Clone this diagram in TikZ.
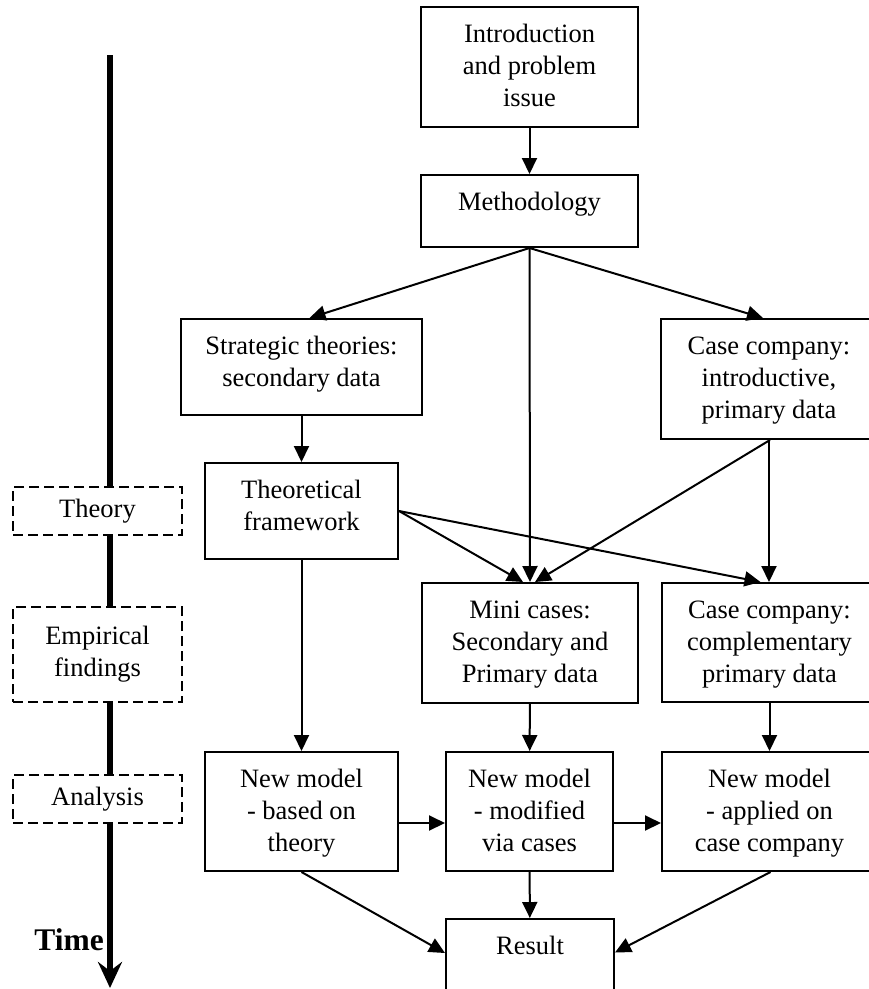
\documentclass[tikz,border=0pt]{standalone}
\usepackage{fontspec}
\setmainfont{Liberation Serif}
\usetikzlibrary{arrows.meta}
\begin{document}
\begin{tikzpicture}[x=1pt,y=-1pt,
  box/.style={draw, line width=2pt, rectangle, inner sep=0pt},
  phase/.style={draw, line width=1.4pt, dash pattern=on 10pt off 5pt, fill=white,
    rectangle, inner sep=0pt, minimum width=169pt, align=center,
    font=\fontsize{26.5}{32}\selectfont},
  txt/.style={anchor=north, yshift=-14pt, inner sep=0pt, align=center,
    font=\fontsize{26.5}{32}\selectfont},
  arr/.style={line width=2pt, -{Triangle[length=16pt,width=15pt]}},
  timeaxis/.style={line width=6pt, -{Stealth[length=26pt,width=24pt,inset=9pt]}},
]
\useasboundingbox (0,0) rectangle (869,989);

% time axis
\coordinate (tstart) at (110,55);
\coordinate (tend) at (110,988);
\draw[timeaxis] (tstart) -- (tend);
\node[anchor=base east, inner sep=0pt, font=\bfseries\fontsize{31.5}{36}\selectfont] (timelbl) at (104,950) {Time};

% phases along the time axis
\node[phase, minimum height=48pt] (phTheory) at (97.5,511) {\raisebox{-2pt}{Theory}};
\node[phase, minimum height=95pt] (phEmp) at (97.5,654.5) {Empirical\\findings};
\node[phase, minimum height=48pt] (phAna) at (97.5,799) {\raisebox{-3pt}{Analysis}};

% process boxes
\node[box, minimum width=217pt, minimum height=120pt] (intro) at (529.5,67) {};
\node[txt] (introT) at (intro.north) {\strut Introduction\\and problem\\issue};

\node[box, minimum width=217pt, minimum height=72pt] (meth) at (529.5,211) {};
\node[txt] (methT) at (meth.north) {\strut Methodology};

\node[box, minimum width=241pt, minimum height=96pt] (strat) at (301.5,367) {};
\node[txt] (stratT) at (strat.north) {\strut Strategic theories:\\secondary data};

\node[box, minimum width=216pt, minimum height=120pt] (caseA) at (769,379) {};
\node[txt] (caseAT) at (caseA.north) {\strut Case company:\\introductive,\\primary data};

\node[box, minimum width=193pt, minimum height=96pt] (theo) at (301.5,511) {};
\node[txt] (theoT) at (theo.north) {\strut Theoretical\\framework};

\node[box, minimum width=216pt, minimum height=120pt] (mini) at (530,643) {};
\node[txt] (miniT) at (mini.north) {\strut Mini cases:\\Secondary and\\Primary data};

\node[box, minimum width=215pt, minimum height=119pt] (compl) at (769.5,642.5) {};
\node[txt] (complT) at (compl.north) {\strut Case company:\\complementary\\primary data};

\node[box, minimum width=193pt, minimum height=119pt] (nmT) at (301.5,811.5) {};
\node[txt] (nmTT) at (nmT.north) {\strut New model\\- based on\\theory};

\node[box, minimum width=167pt, minimum height=119pt] (nmM) at (529.5,811.5) {};
\node[txt] (nmMT) at (nmM.north) {\strut New model\\- modified\\via cases};

\node[box, minimum width=215pt, minimum height=119pt] (nmA) at (769.5,811.5) {};
\node[txt] (nmAT) at (nmA.north) {\strut New model\\- applied on\\case company};

\node[box, minimum width=168pt, minimum height=121pt] (result) at (530,979.5) {};
\node[txt] (resultT) at (result.north) {\strut Result};

% connectors
\draw[arr] (intro) -- (meth);
\draw[arr] (meth.south) -- ([xshift=8pt]strat.north);
\draw[arr] (meth.south) -- (mini.north);
\draw[arr] (meth.south) -- ([xshift=-6pt]caseA.north);
\draw[arr] (strat) -- (theo);
\draw[arr] (theo.east) -- ([xshift=-7pt]mini.north);
\draw[arr] (theo.east) -- ([xshift=-9pt]compl.north);
\draw[arr] ([xshift=1pt]caseA.south) -- ([xshift=5pt]mini.north);
\draw[arr] (caseA.south) -- (caseA.south |- compl.north);
\draw[arr] (theo) -- (nmT);
\draw[arr] (mini) -- (nmM);
\draw[arr] (compl) -- (nmA);
\draw[arr] ([yshift=-11.5pt]nmT.east) -- ([yshift=-11.5pt]nmM.west);
\draw[arr] ([yshift=-11.5pt]nmM.east) -- ([yshift=-11.5pt]nmA.west);
\draw[arr] (nmT.south) -- ([yshift=26.5pt]result.west);
\draw[arr] (nmM) -- (result);
\draw[arr] ([xshift=1pt]nmA.south) -- ([yshift=27pt]result.east);
\end{tikzpicture}
\end{document}
